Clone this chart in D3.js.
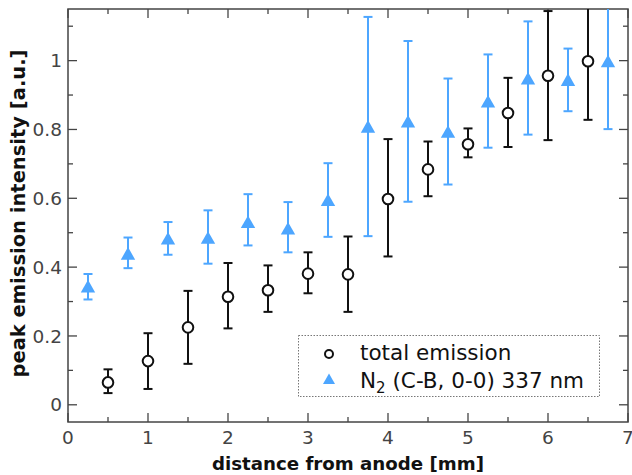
<!DOCTYPE html>
<html>
<head>
<meta charset="utf-8">
<script src="https://cdn.jsdelivr.net/npm/d3@7"></script>
<style>
  body { margin: 0; background: #fff; }
  svg { display: block; font-family: "DejaVu Sans", sans-serif; }
</style>
</head>
<body>
<div id="wrapper"></div>
<script>
// total emission (black circles)
const distTotal = [0.5, 1, 1.5, 2, 2.5, 3, 3.5, 4, 4.5, 5, 5.5, 6, 6.5]
const total   = [0.065, 0.127, 0.225, 0.314, 0.333, 0.381, 0.379, 0.598, 0.684, 0.757, 0.848, 0.956, 0.998]
const totalLo = [0.034, 0.046, 0.119, 0.222, 0.270, 0.324, 0.270, 0.431, 0.606, 0.719, 0.749, 0.769, 0.828]
const totalHi = [0.103, 0.208, 0.331, 0.412, 0.405, 0.443, 0.489, 0.772, 0.765, 0.803, 0.950, 1.144, 1.2]

// N2 (C-B, 0-0) 337 nm (blue triangles)
const distN2 = [0.25, 0.75, 1.25, 1.75, 2.25, 2.75, 3.25, 3.75, 4.25, 4.75, 5.25, 5.75, 6.25, 6.75]
const n2   = [0.344, 0.439, 0.483, 0.485, 0.531, 0.512, 0.595, 0.808, 0.823, 0.793, 0.881, 0.948, 0.944, 0.998]
const n2Lo = [0.306, 0.397, 0.436, 0.410, 0.463, 0.443, 0.488, 0.490, 0.590, 0.640, 0.747, 0.785, 0.853, 0.801]
const n2Hi = [0.380, 0.486, 0.531, 0.565, 0.612, 0.589, 0.702, 1.127, 1.057, 0.948, 1.018, 1.114, 1.035, 1.2]

const xTicks = [0, 1, 2, 3, 4, 5, 6, 7]
const yTicks = [0, 0.2, 0.4, 0.6, 0.8, 1]

const blue = "#4da6ff"
const axisColor = "#444"

let dims = {
    width: 632,
    height: 475,
    margin: { top: 9, right: 4, bottom: 53, left: 68 }
}
dims.boundedWidth = dims.width - dims.margin.left - dims.margin.right
dims.boundedHeight = dims.height - dims.margin.top - dims.margin.bottom

const wrapper = d3.select("#wrapper")
    .append("svg")
    .attr("width", dims.width)
    .attr("height", dims.height)

const bounds = wrapper.append("g")
    .attr("transform", `translate(${dims.margin.left},${dims.margin.top})`)

const xScale = d3.scaleLinear()
    .domain([0, 7])
    .range([0, dims.boundedWidth])

const yScale = d3.scaleLinear()
    .domain([-0.05, 1.15])
    .range([dims.boundedHeight, 0])

bounds.append("clipPath").attr("id", "clip")
    .append("rect")
    .attr("width", dims.boundedWidth)
    .attr("height", dims.boundedHeight)

// ticks (inward, all four sides)
const xMinor = d3.range(0.5, 7, 1)
const yMinor = d3.range(0.1, 1.15, 0.2)
const tickG = bounds.append("g").attr("stroke", axisColor).attr("stroke-width", 1.3)

function xTickLines(vals, len) {
    vals.forEach(v => {
        const x = xScale(v)
        tickG.append("line").attr("x1", x).attr("x2", x)
            .attr("y1", dims.boundedHeight).attr("y2", dims.boundedHeight - len)
        tickG.append("line").attr("x1", x).attr("x2", x)
            .attr("y1", 0).attr("y2", len)
    })
}
function yTickLines(vals, len) {
    vals.forEach(v => {
        const y = yScale(v)
        tickG.append("line").attr("x1", 0).attr("x2", len)
            .attr("y1", y).attr("y2", y)
        tickG.append("line").attr("x1", dims.boundedWidth).attr("x2", dims.boundedWidth - len)
            .attr("y1", y).attr("y2", y)
    })
}
xTickLines(xTicks, 9)
xTickLines(xMinor, 5)
yTickLines(yTicks, 9)
yTickLines(yMinor, 5)

// tick labels
bounds.append("g").selectAll("text")
    .data(xTicks)
    .join("text")
    .attr("x", d => xScale(d))
    .attr("y", dims.boundedHeight + 22)
    .attr("text-anchor", "middle")
    .attr("fill", axisColor)
    .style("font-size", "18.5px")
    .text(d => d)

bounds.append("g").selectAll("text")
    .data(yTicks)
    .join("text")
    .attr("x", -6)
    .attr("y", d => yScale(d))
    .attr("dy", "0.36em")
    .attr("text-anchor", "end")
    .attr("fill", axisColor)
    .style("font-size", "18.5px")
    .text(d => d)

// frame
bounds.append("rect")
    .attr("width", dims.boundedWidth)
    .attr("height", dims.boundedHeight)
    .attr("fill", "none")
    .attr("stroke", axisColor)
    .attr("stroke-width", 1.5)

// axis titles
bounds.append("text")
    .attr("x", dims.boundedWidth / 2)
    .attr("y", dims.boundedHeight + 48)
    .attr("text-anchor", "middle")
    .style("font-size", "18.2px")
    .style("font-weight", "bold")
    .attr("fill", "#111")
    .text("distance from anode [mm]")

bounds.append("text")
    .attr("transform", `translate(${-dims.margin.left + 25},${dims.boundedHeight / 2 - 2}) rotate(-90)`)
    .attr("text-anchor", "middle")
    .style("font-size", "19.5px")
    .style("font-weight", "bold")
    .attr("fill", "#111")
    .text("peak emission intensity [a.u.]")

// data
const plot = bounds.append("g").attr("clip-path", "url(#clip)")

function drawErrors(xs, lo, hi, color) {
    const g = plot.append("g").attr("stroke", color).attr("stroke-width", 2)
    xs.forEach((x, i) => {
        const cx = xScale(x)
        g.append("line").attr("x1", cx).attr("x2", cx)
            .attr("y1", yScale(lo[i])).attr("y2", yScale(hi[i]))
        ;[lo[i], hi[i]].forEach(v => {
            g.append("line").attr("x1", cx - 4.5).attr("x2", cx + 4.5)
                .attr("y1", yScale(v)).attr("y2", yScale(v))
        })
    })
}

drawErrors(distN2, n2Lo, n2Hi, blue)
drawErrors(distTotal, totalLo, totalHi, "#111")

const triPath = s => `M0,${-s * 0.55}L${s * 0.6},${s * 0.5}L${-s * 0.6},${s * 0.5}Z`

plot.append("g").selectAll("path")
    .data(distN2)
    .join("path")
    .attr("d", triPath(12))
    .attr("transform", (d, i) => `translate(${xScale(d)},${yScale(n2[i])})`)
    .attr("fill", blue)

plot.append("g").selectAll("circle")
    .data(distTotal)
    .join("circle")
    .attr("cx", d => xScale(d))
    .attr("cy", (d, i) => yScale(total[i]))
    .attr("r", 5.3)
    .attr("fill", "white")
    .attr("stroke", "#111")
    .attr("stroke-width", 2)

// legend
const legend = wrapper.append("g")
legend.append("rect")
    .attr("x", 298.5).attr("y", 335.5)
    .attr("width", 301).attr("height", 61)
    .attr("fill", "white")
    .attr("stroke", "#777")
    .attr("stroke-width", 1)
    .attr("stroke-dasharray", "1.5,1.5")

legend.append("circle")
    .attr("cx", 329).attr("cy", 354).attr("r", 4)
    .attr("fill", "white").attr("stroke", "#111").attr("stroke-width", 2)
legend.append("path")
    .attr("d", triPath(10))
    .attr("transform", "translate(329,379)")
    .attr("fill", blue)

legend.append("text")
    .attr("x", 360).attr("y", 360)
    .style("font-size", "21.5px")
    .attr("fill", "#111")
    .text("total emission")

const t2 = legend.append("text")
    .attr("x", 360).attr("y", 388)
    .style("font-size", "21.5px")
    .attr("fill", "#111")
t2.append("tspan").text("N")
t2.append("tspan").attr("dy", 5).style("font-size", "15px").text("2")
t2.append("tspan").attr("dy", -5).text(" (C-B, 0-0) 337 nm")
</script>
</body>
</html>
